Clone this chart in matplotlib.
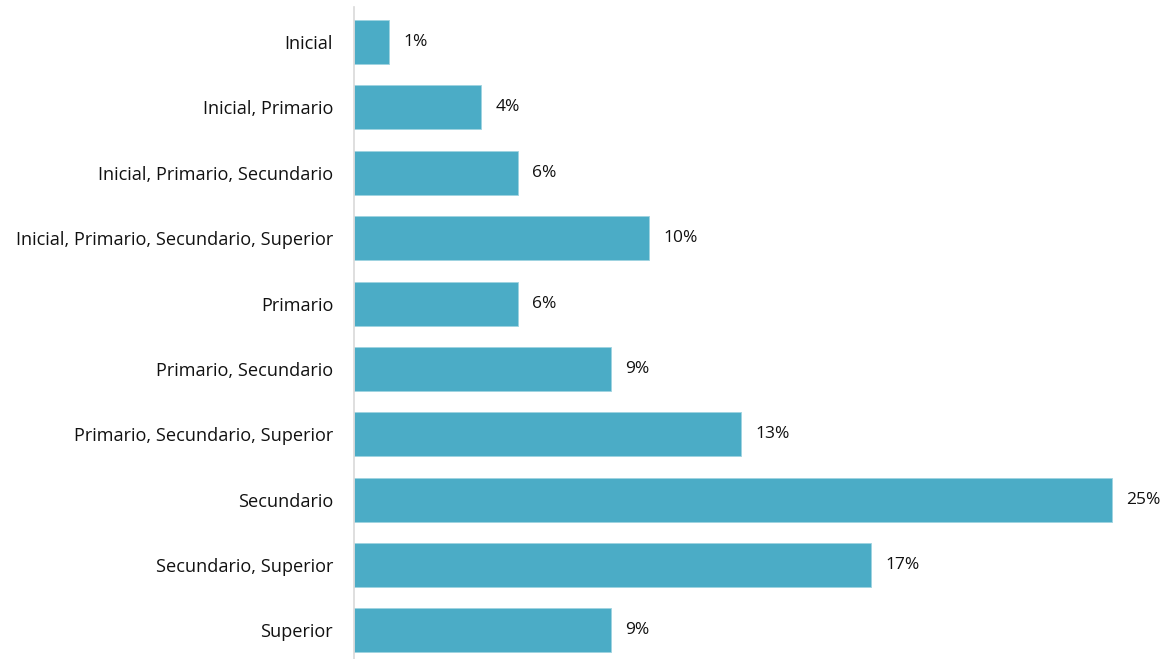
import matplotlib
matplotlib.use("Agg")
import matplotlib.pyplot as plt

categories = [
    "Inicial",
    "Inicial, Primario",
    "Inicial, Primario, Secundario",
    "Inicial, Primario, Secundario, Superior",
    "Primario",
    "Primario, Secundario",
    "Primario, Secundario, Superior",
    "Secundario",
    "Secundario, Superior",
    "Superior",
]
values = [1.17, 4.26, 5.5, 9.89, 5.5, 8.61, 12.97, 25.4, 17.33, 8.61]
labels = ["1%", "4%", "6%", "10%", "6%", "9%", "13%", "25%", "17%", "9%"]

plt.rcParams['font.family'] = ['Open Sans', 'DejaVu Sans']

W, H = 1167, 659
fig = plt.figure(figsize=(W / 100, H / 100), dpi=100)
left = 354 / W
right = 1159.7 / W
ax = fig.add_axes([left, 0, right - left, 1 - 7 / H])

bar_color = "#4BACC6"
y = list(range(len(categories)))
bars = ax.barh(y, values, height=0.673, color=bar_color, edgecolor="#9fd3e0", linewidth=0.6)

for b, lab in zip(bars, labels):
    ax.text(b.get_width() + 0.47, b.get_y() + b.get_height() / 2, lab,
            va="center", ha="left", fontsize=12.5, color="#111111")

ax.set_xlim(0, 27)
ax.set_ylim(9.436, -0.535)
ax.set_yticks(y)
ax.set_yticklabels(categories, fontsize=13.1, color="#111111")
ax.tick_params(axis="y", length=0, pad=15)
ax.set_xticks([])
for s in ["top", "right", "bottom"]:
    ax.spines[s].set_visible(False)
ax.spines["left"].set_color("#D9D9D9")
ax.spines["left"].set_linewidth(1.2)

fig.savefig("out.png", dpi=100)
